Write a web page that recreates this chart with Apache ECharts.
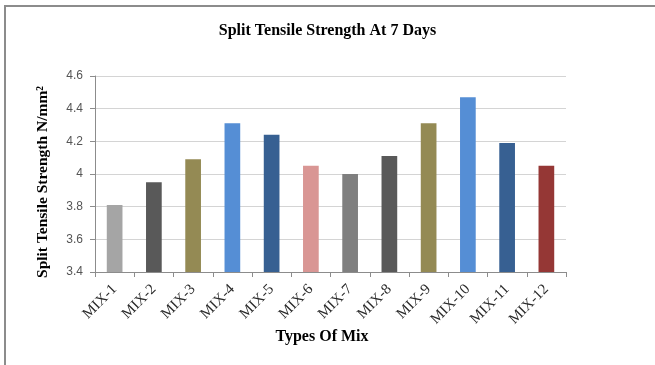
<!DOCTYPE html>
<html>
<head>
<meta charset="utf-8">
<script src="https://cdn.jsdelivr.net/npm/echarts@6/dist/echarts.min.js"></script>
<style>
  html, body { margin: 0; padding: 0; background: #fff; }
  #frame { position: absolute; left: 0; top: 0; width: 655px; height: 365px; }
  #chart { position: absolute; left: 0; top: 0; width: 655px; height: 365px; }
  #edge { position: absolute; left: 4px; top: 5px; width: 700px; height: 400px;
          border-top: 2px solid #8c8c8c; border-left: 2px solid #8c8c8c; box-sizing: border-box; }
</style>
</head>
<body>
<div id="frame">
  <div id="edge"></div>
  <div id="chart"></div>
</div>
<script>
// Mix designs and their split tensile strength after 7 days (N/mm²)
const categories = ['MIX-1', 'MIX-2', 'MIX-3', 'MIX-4', 'MIX-5', 'MIX-6',
                    'MIX-7', 'MIX-8', 'MIX-9', 'MIX-10', 'MIX-11', 'MIX-12'];
const strength = [3.81, 3.95, 4.09, 4.31, 4.24, 4.05, 4.00, 4.11, 4.31, 4.47, 4.19, 4.05];
const barColors = ['#A5A5A5', '#595959', '#948A54', '#558ED5', '#376092', '#D99694',
                   '#7F7F7F', '#595959', '#948A54', '#558ED5', '#376092', '#953735'];
const yTicks = { min: 3.4, max: 4.6, step: 0.2 };

const serifBold = { fontFamily: 'Liberation Serif', fontWeight: 'bold', fill: '#000' };

const chart = echarts.init(document.getElementById('chart'), null, { renderer: 'canvas' });
chart.setOption({
  animation: false,
  backgroundColor: 'transparent',
  title: {
    text: 'Split Tensile Strength At 7 Days',
    left: 'center',
    top: 18,
    textStyle: { fontFamily: 'Liberation Serif', fontWeight: 'bold', fontSize: 16, color: '#000' }
  },
  grid: { left: 95, right: 89, top: 76, bottom: 93, containLabel: false },
  xAxis: {
    type: 'category',
    data: categories,
    axisLine: { lineStyle: { color: '#8c8c8c', width: 1 } },
    axisTick: { show: true, alignWithLabel: false, length: 5, lineStyle: { color: '#8c8c8c' } },
    axisLabel: {
      rotate: 45,
      margin: 15,
      fontFamily: 'Liberation Serif',
      fontSize: 15,
      color: '#2a2a2a'
    }
  },
  yAxis: {
    type: 'value',
    min: yTicks.min,
    max: yTicks.max,
    interval: yTicks.step,
    axisLine: { show: true, lineStyle: { color: '#8c8c8c', width: 1 } },
    axisTick: { show: true, length: 5, lineStyle: { color: '#8c8c8c' } },
    splitLine: { lineStyle: { color: '#d4d4d4', width: 1 } },
    axisLabel: {
      margin: 12,
      fontFamily: 'Liberation Sans',
      fontSize: 12,
      color: '#555',
      formatter: v => String(parseFloat(v.toFixed(1)))
    }
  },
  graphic: [
    {
      type: 'text',
      x: 43, y: 182,
      rotation: Math.PI / 2,
      style: Object.assign({ text: 'Split Tensile Strength N/mm²', fontSize: 15.5,
                             align: 'center', verticalAlign: 'middle' }, serifBold)
    },
    {
      type: 'text',
      x: 322, y: 337,
      style: Object.assign({ text: 'Types Of Mix', fontSize: 16,
                             align: 'center', verticalAlign: 'middle' }, serifBold)
    }
  ],
  series: [{
    type: 'bar',
    data: strength.map((v, i) => ({ value: v, itemStyle: { color: barColors[i] } })),
    barWidth: '40%'
  }]
});
</script>
</body>
</html>
